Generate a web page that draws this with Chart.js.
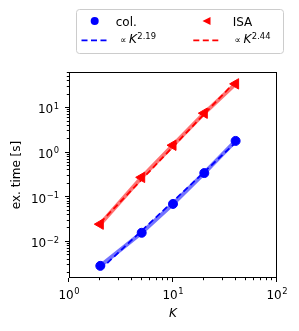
<!DOCTYPE html>
<html>
<head>
<meta charset="utf-8">
<script src="https://cdn.jsdelivr.net/npm/chart.js@4/dist/chart.umd.min.js"></script>
<style>
html, body { margin: 0; padding: 0; background: #fff; }
#chart { display: block; }
</style>
</head>
<body>
<canvas id="chart" width="299" height="331"></canvas>
<script>
// values (log-log plot)
const kValues = [2, 5, 10, 20, 40];
const colTimes = [0.0029, 0.016, 0.071, 0.35, 1.84];
const isaTimes = [0.025, 0.28, 1.47, 7.7, 35];
const colFit = [0.0024, 0.0178, 0.081, 0.37, 1.69];
const isaFit = [0.027, 0.25, 1.36, 7.4, 40];
const colExponent = "2.19";
const isaExponent = "2.44";
const xDecades = [0, 1, 2];
const yDecades = [-2, -1, 0, 1];
const xLimits = [1, 100];
const yLimits = [0.00155, 64.6];

const FONT = "DejaVu Sans";
const BLUE = "#0000ff";
const RED = "#ff0000";

const toPoints = ys => ys.map((y, i) => ({ x: kValues[i], y }));

const logTicks = (lo, hi) => {
    const out = [];
    for (let d = Math.floor(Math.log10(lo)); d <= Math.ceil(Math.log10(hi)); d++) {
        for (let m = 1; m <= 9; m++) {
            const v = m * Math.pow(10, d);
            if (v >= lo * 0.999 && v <= hi * 1.001) out.push({ v, major: m === 1 });
        }
    }
    return out;
};

const supText = exp => String(exp).replace("-", "\u2212");

// draws base with a superscript, anchored at x (align: center/right/left), baseline y
const drawPower = (ctx, base, exp, x, y, align, italicBase) => {
    ctx.font = (italicBase ? "italic " : "") + "12px " + FONT;
    const bw = ctx.measureText(base).width;
    ctx.font = "8.4px " + FONT;
    const ew = ctx.measureText(exp).width;
    const total = bw + ew + 0.5;
    let x0 = x;
    if (align === "center") x0 = x - total / 2;
    else if (align === "right") x0 = x - total;
    ctx.textAlign = "left";
    ctx.textBaseline = "alphabetic";
    ctx.font = (italicBase ? "italic " : "") + "12px " + FONT;
    ctx.fillText(base, x0, y);
    ctx.font = "8.4px " + FONT;
    ctx.fillText(exp, x0 + bw + 0.5, y - 4.6);
};

const axesPlugin = {
    id: "mplAxes",
    afterDraw(chart) {
        const { ctx, chartArea: a, scales } = chart;
        const xs = scales.x, ys = scales.y;
        ctx.save();
        ctx.fillStyle = "#000";
        ctx.strokeStyle = "#000";
        ctx.lineWidth = 1;

        // ticks
        logTicks(xLimits[0], xLimits[1]).forEach(t => {
            const px = Math.round(xs.getPixelForValue(t.v)) - 0.5;
            const len = t.major ? 4 : 2.2;
            ctx.beginPath();
            ctx.moveTo(px, a.bottom);
            ctx.lineTo(px, a.bottom + len);
            ctx.stroke();
        });
        logTicks(yLimits[0], yLimits[1]).forEach(t => {
            const py = Math.round(ys.getPixelForValue(t.v)) - 0.5;
            const len = t.major ? 4 : 2.2;
            ctx.beginPath();
            ctx.moveTo(a.left, py);
            ctx.lineTo(a.left - len, py);
            ctx.stroke();
        });

        // frame
        ctx.strokeRect(a.left + 0.5, a.top + 0.5, a.right - a.left - 1, a.bottom - a.top - 1);

        // tick labels
        xDecades.forEach(d => {
            const px = xs.getPixelForValue(Math.pow(10, d));
            drawPower(ctx, "10", supText(d), px, a.bottom + 20.7, "center");
        });
        yDecades.forEach(d => {
            const py = ys.getPixelForValue(Math.pow(10, d));
            drawPower(ctx, "10", supText(d), a.left - 10, py + 5.3, "right");
        });

        // axis titles
        ctx.font = "italic 12px " + FONT;
        ctx.textAlign = "center";
        ctx.textBaseline = "alphabetic";
        ctx.fillText("K", (a.left + a.right) / 2, a.bottom + 38.7);

        ctx.save();
        ctx.translate(19.5, (a.top + a.bottom) / 2);
        ctx.rotate(-Math.PI / 2);
        ctx.font = "12px " + FONT;
        ctx.fillText("ex. time [s]", 0, 0);
        ctx.restore();

        // legend
        ctx.beginPath();
        ctx.roundRect(76.5, 9.5, 207, 44, 3);
        ctx.fillStyle = "rgba(255,255,255,0.8)";
        ctx.fill();
        ctx.strokeStyle = "#cccccc";
        ctx.stroke();

        ctx.fillStyle = BLUE;
        ctx.beginPath();
        ctx.arc(94.7, 21, 4, 0, Math.PI * 2);
        ctx.fill();

        ctx.fillStyle = RED;
        ctx.beginPath();
        ctx.moveTo(202.5, 21);
        ctx.lineTo(210.5, 17);
        ctx.lineTo(210.5, 25);
        ctx.closePath();
        ctx.fill();

        ctx.lineWidth = 1.8;
        ctx.setLineDash([6, 3.5]);
        ctx.strokeStyle = BLUE;
        ctx.beginPath();
        ctx.moveTo(81.5, 40.3);
        ctx.lineTo(109, 40.3);
        ctx.stroke();
        ctx.strokeStyle = RED;
        ctx.beginPath();
        ctx.moveTo(193.3, 40.3);
        ctx.lineTo(220.8, 40.3);
        ctx.stroke();
        ctx.setLineDash([]);

        ctx.fillStyle = "#000";
        ctx.font = "12px " + FONT;
        ctx.textAlign = "left";
        ctx.fillText("col.", 115.7, 26);
        ctx.fillText("ISA", 232.7, 26);

        ctx.font = "9px " + FONT;
        ctx.fillText("\u221d", 120, 43.3);
        ctx.fillText("\u221d", 234.5, 43.3);
        drawPower(ctx, "K", colExponent, 129, 43.3, "left", true);
        drawPower(ctx, "K", isaExponent, 243.5, 43.3, "left", true);

        ctx.restore();
    }
};

const dataLine = (values, color, fade, pointStyle, radius, rotation) => ({
    data: toPoints(values),
    borderColor: fade,
    borderWidth: 4,
    pointStyle,
    rotation,
    pointRadius: radius,
    pointBackgroundColor: color,
    pointBorderColor: color,
    pointBorderWidth: 1,
    order: 2,
});

const fitLine = (values, color) => ({
    data: toPoints(values),
    borderColor: color,
    borderWidth: 1.8,
    borderDash: [6, 3.5],
    pointRadius: 0,
    order: 1,
});

const chart = new Chart(document.getElementById("chart"), {
    type: "line",
    data: {
        datasets: [
            dataLine(colTimes, BLUE, "rgba(0,0,255,0.55)", "circle", 4.5, 0),
            dataLine(isaTimes, RED, "rgba(255,0,0,0.55)", "triangle", 6, -90),
            fitLine(colFit, BLUE),
            fitLine(isaFit, RED),
        ],
    },
    options: {
        responsive: false,
        devicePixelRatio: 1,
        animation: false,
        layout: { padding: { left: 69, right: 22, top: 72, bottom: 53 } },
        plugins: { legend: { display: false }, tooltip: { enabled: false } },
        scales: {
            x: { type: "logarithmic", min: xLimits[0], max: xLimits[1], display: false },
            y: { type: "logarithmic", min: yLimits[0], max: yLimits[1], display: false },
        },
    },
    plugins: [axesPlugin],
});
</script>
</body>
</html>
